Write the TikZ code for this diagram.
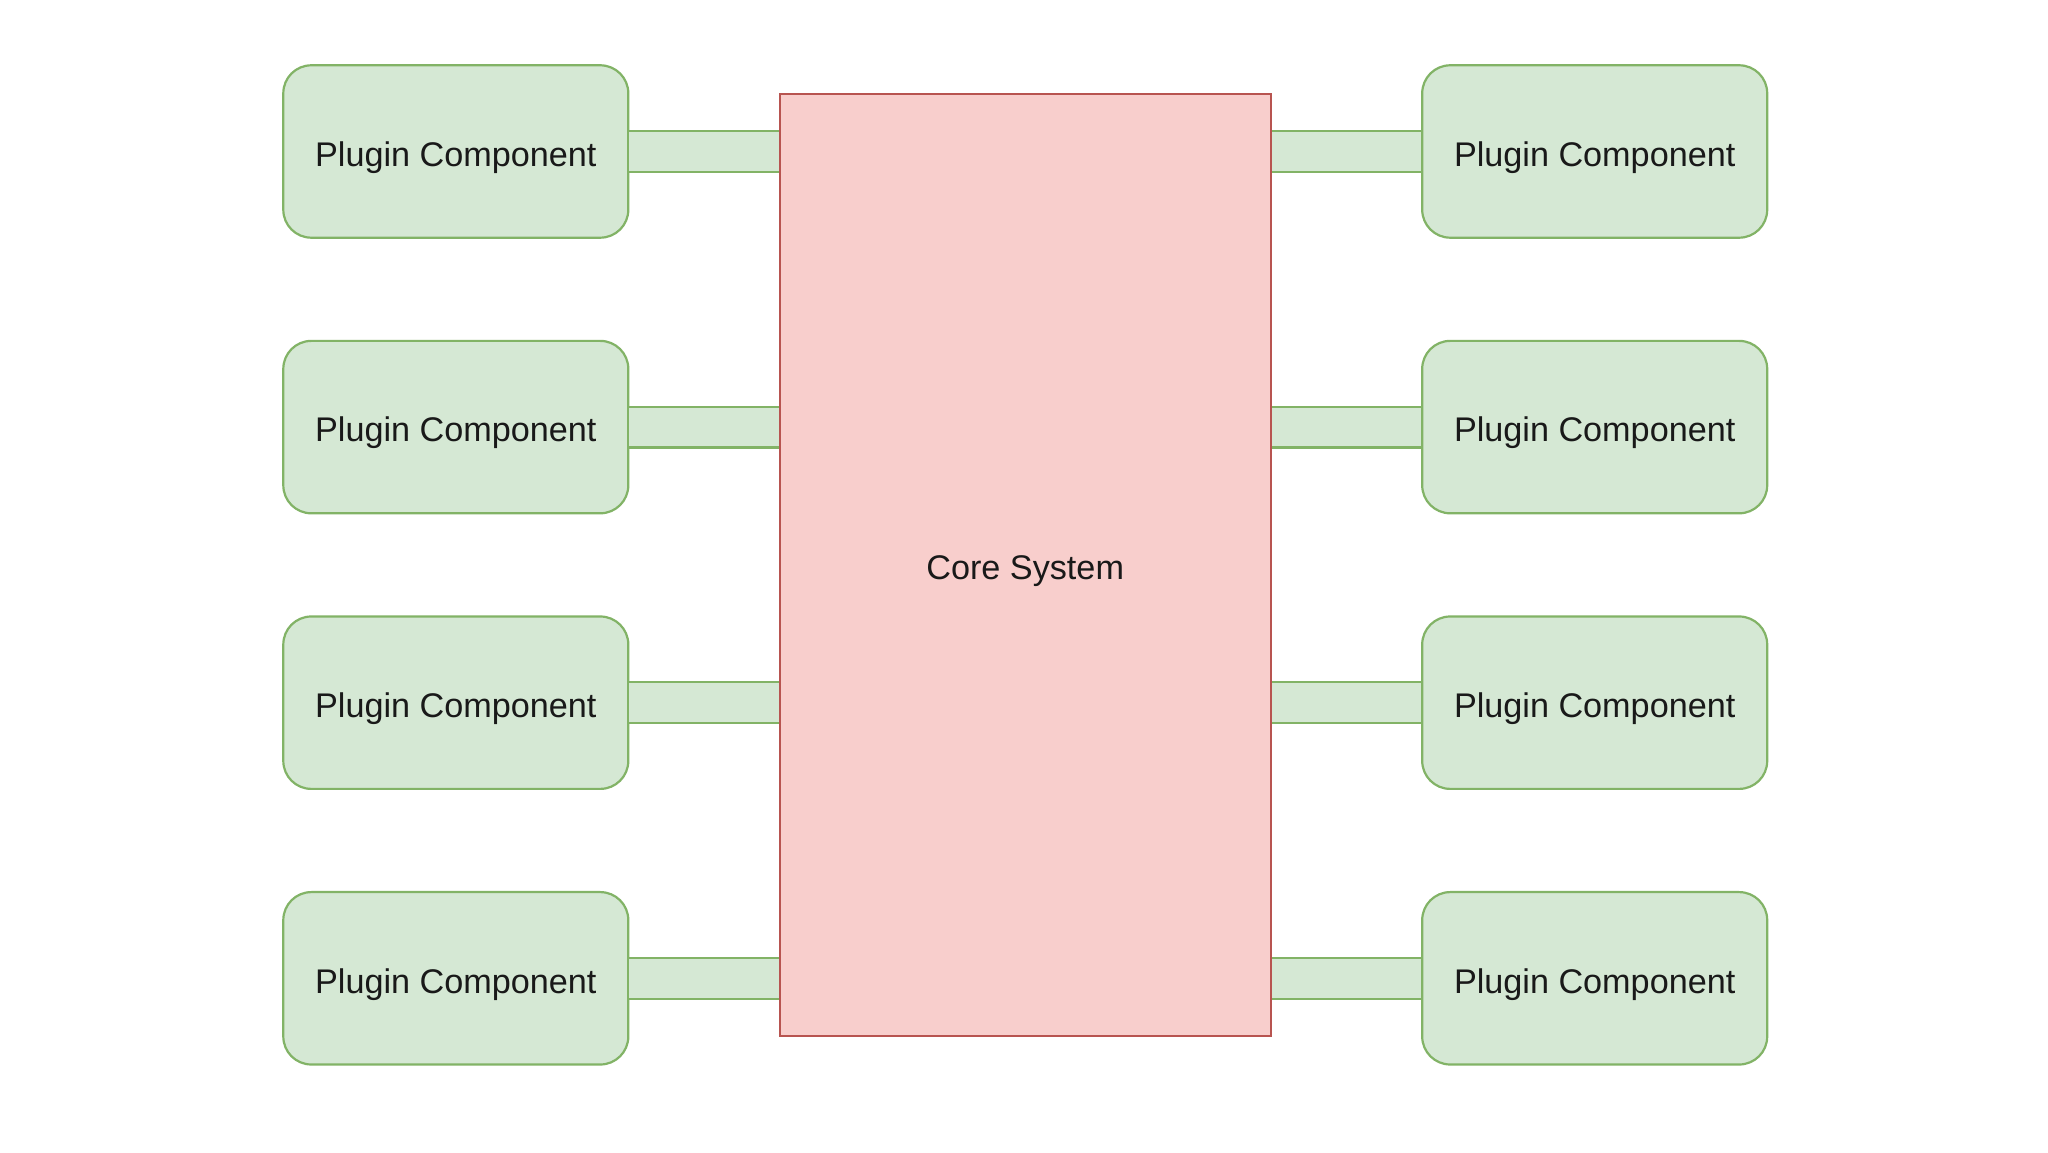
\documentclass[tikz,border=0pt]{standalone}
\usepackage{fontspec}
\setmainfont{Liberation Sans}
\definecolor{gfill}{HTML}{D5E8D4}
\definecolor{gline}{HTML}{82B366}
\definecolor{rfill}{HTML}{F8CECC}
\definecolor{rline}{HTML}{B85450}
\tikzset{
  plugin/.style={draw=gline, fill=gfill, line width=2.2pt, rounded corners=28pt,
    minimum width=345pt, minimum height=172.4pt, inner sep=0pt,
    text height=29.7pt, text depth=0pt,
    font=\fontsize{34.2}{40}\selectfont, text=black!90},
  corebox/.style={draw=rline, fill=rfill, line width=2.2pt,
    minimum width=491pt, minimum height=941.7pt, inner sep=0pt,
    text height=29.7pt, text depth=0pt,
    font=\fontsize{34.2}{40}\selectfont, text=black!90},
  link/.style={draw=gline, line width=2.2pt, double=gfill, double distance=38.5pt}
}
\begin{document}
\begin{tikzpicture}[x=1pt,y=1pt]
\useasboundingbox (0,0) rectangle (2048,1152);
\fill[white] (0,0) rectangle (2048,1152);
\node[corebox] (core) at (1025.2,587.1) {Core System};
\foreach \i/\y in {1/1000.5,2/724.9,3/449.3,4/173.7}{
  \node[plugin] (L\i) at (455.8,\y) {Plugin Component};
  \node[plugin] (R\i) at (1594.7,\y) {Plugin Component};
  \draw[link] (L\i.east) -- (core.west |- L\i.east);
  \draw[link] (R\i.west) -- (core.east |- R\i.west);
}
\end{tikzpicture}
\end{document}
